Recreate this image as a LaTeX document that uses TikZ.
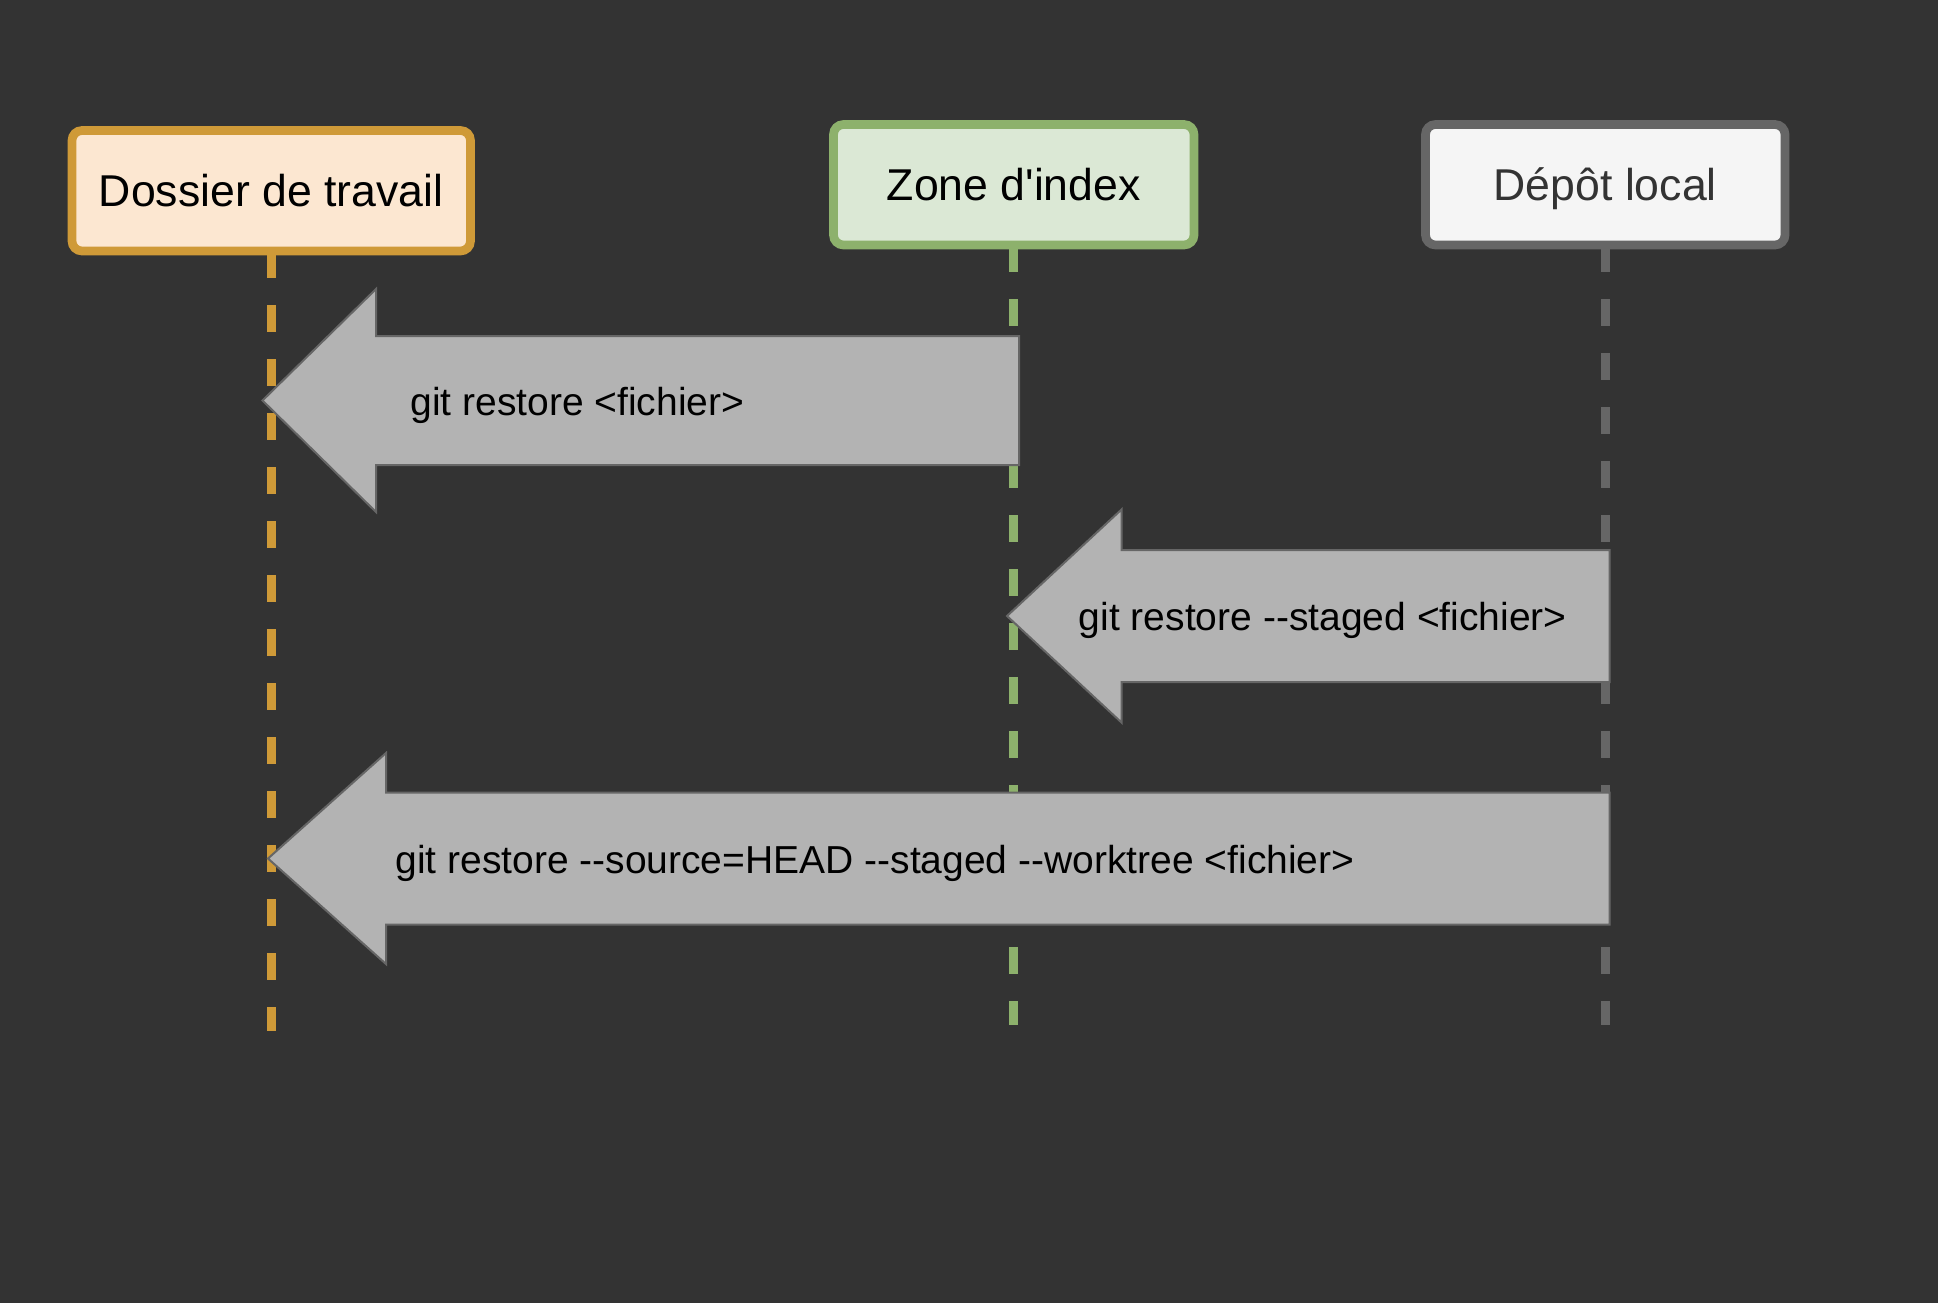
\documentclass[tikz,border=0pt]{standalone}
\usepackage{fontspec}
\setmainfont{Liberation Sans}
\definecolor{bg}{HTML}{333333}
\definecolor{dosfill}{HTML}{FCE7D1}
\definecolor{dosline}{HTML}{CF9A38}
\definecolor{idxfill}{HTML}{DBE8D5}
\definecolor{idxline}{HTML}{8DB16C}
\definecolor{depfill}{HTML}{F5F5F5}
\definecolor{depline}{HTML}{666666}
\definecolor{deptext}{HTML}{333333}
\definecolor{arrfill}{HTML}{B3B3B3}
\definecolor{arrline}{HTML}{666666}
\begin{document}
\begin{tikzpicture}[x=0.5pt,y=-0.5pt,
  actor/.style={draw, line width=4.35pt, rounded corners=5pt, inner sep=0pt,
    minimum height=60.25pt, text height=16pt, text depth=0pt,
    font=\fontsize{22.3pt}{26pt}\selectfont},
  life/.style={line width=4.35pt, dash pattern=on 13.5pt off 13.5pt},
  blockarrow/.style={fill=arrfill, draw=arrline, line width=1pt, line join=miter},
  lbl/.style={inner sep=0pt, anchor=base west, text=black,
    font=\fontsize{19.5pt}{23pt}\selectfont}]
% bounding box first, then background (bleeding past the edges)
\useasboundingbox (0,0) rectangle (1938,1302);
\fill[bg] (-6,-6) rectangle (1944,1308);

% actor box centres
\path (271.25,190.75) coordinate (dosC);
\path (1013.75,184.75) coordinate (idxC);
\path (1605.25,184.75) coordinate (depC);

% lifeline end points
\coordinate (dosEnd) at (271.25,1031);
\coordinate (idxEnd) at (1013.75,1025);
\coordinate (depEnd) at (1605.25,1025);

% lifelines
\draw[life, draw=dosline] (271.25,251) -- (dosEnd);
\draw[life, draw=idxline] (1013.75,245) -- (idxEnd);
\draw[life, draw=depline] (1605.25,245) -- (depEnd);

% block arrows
\draw[blockarrow] (262.5,400.5) -- (376,289) -- (376,336) -- (1019,336)
  -- (1019,465) -- (376,465) -- (376,512) -- cycle;
\draw[blockarrow] (1007,616) -- (1121.5,509.5) -- (1121.5,550) -- (1609.5,550)
  -- (1609.5,682) -- (1121.5,682) -- (1121.5,722.5) -- cycle;
\draw[blockarrow] (268,858.5) -- (386,753) -- (386,792.5) -- (1609.5,792.5)
  -- (1609.5,924.5) -- (386,924.5) -- (386,964) -- cycle;

% arrow labels
\node[lbl] (l1) at (410,415) {git restore <fichier>};
\node[lbl] (l2) at (1078.5,630) {git restore -{}-staged <fichier>};
\node[lbl] (l3) at (395,873) {git restore -{}-source=HEAD -{}-staged -{}-worktree <fichier>};

% actor boxes
\node[actor, draw=dosline, fill=dosfill, minimum width=199.25pt, text=black]
  (dossier) at (dosC) {Dossier de travail};
\node[actor, draw=idxline, fill=idxfill, minimum width=180.25pt, text=black]
  (index) at (idxC) {Zone d\textquotesingle index};
\node[actor, draw=depline, fill=depfill, minimum width=179.75pt, text=deptext]
  (depot) at (depC) {Dépôt local};
\end{tikzpicture}
\end{document}
